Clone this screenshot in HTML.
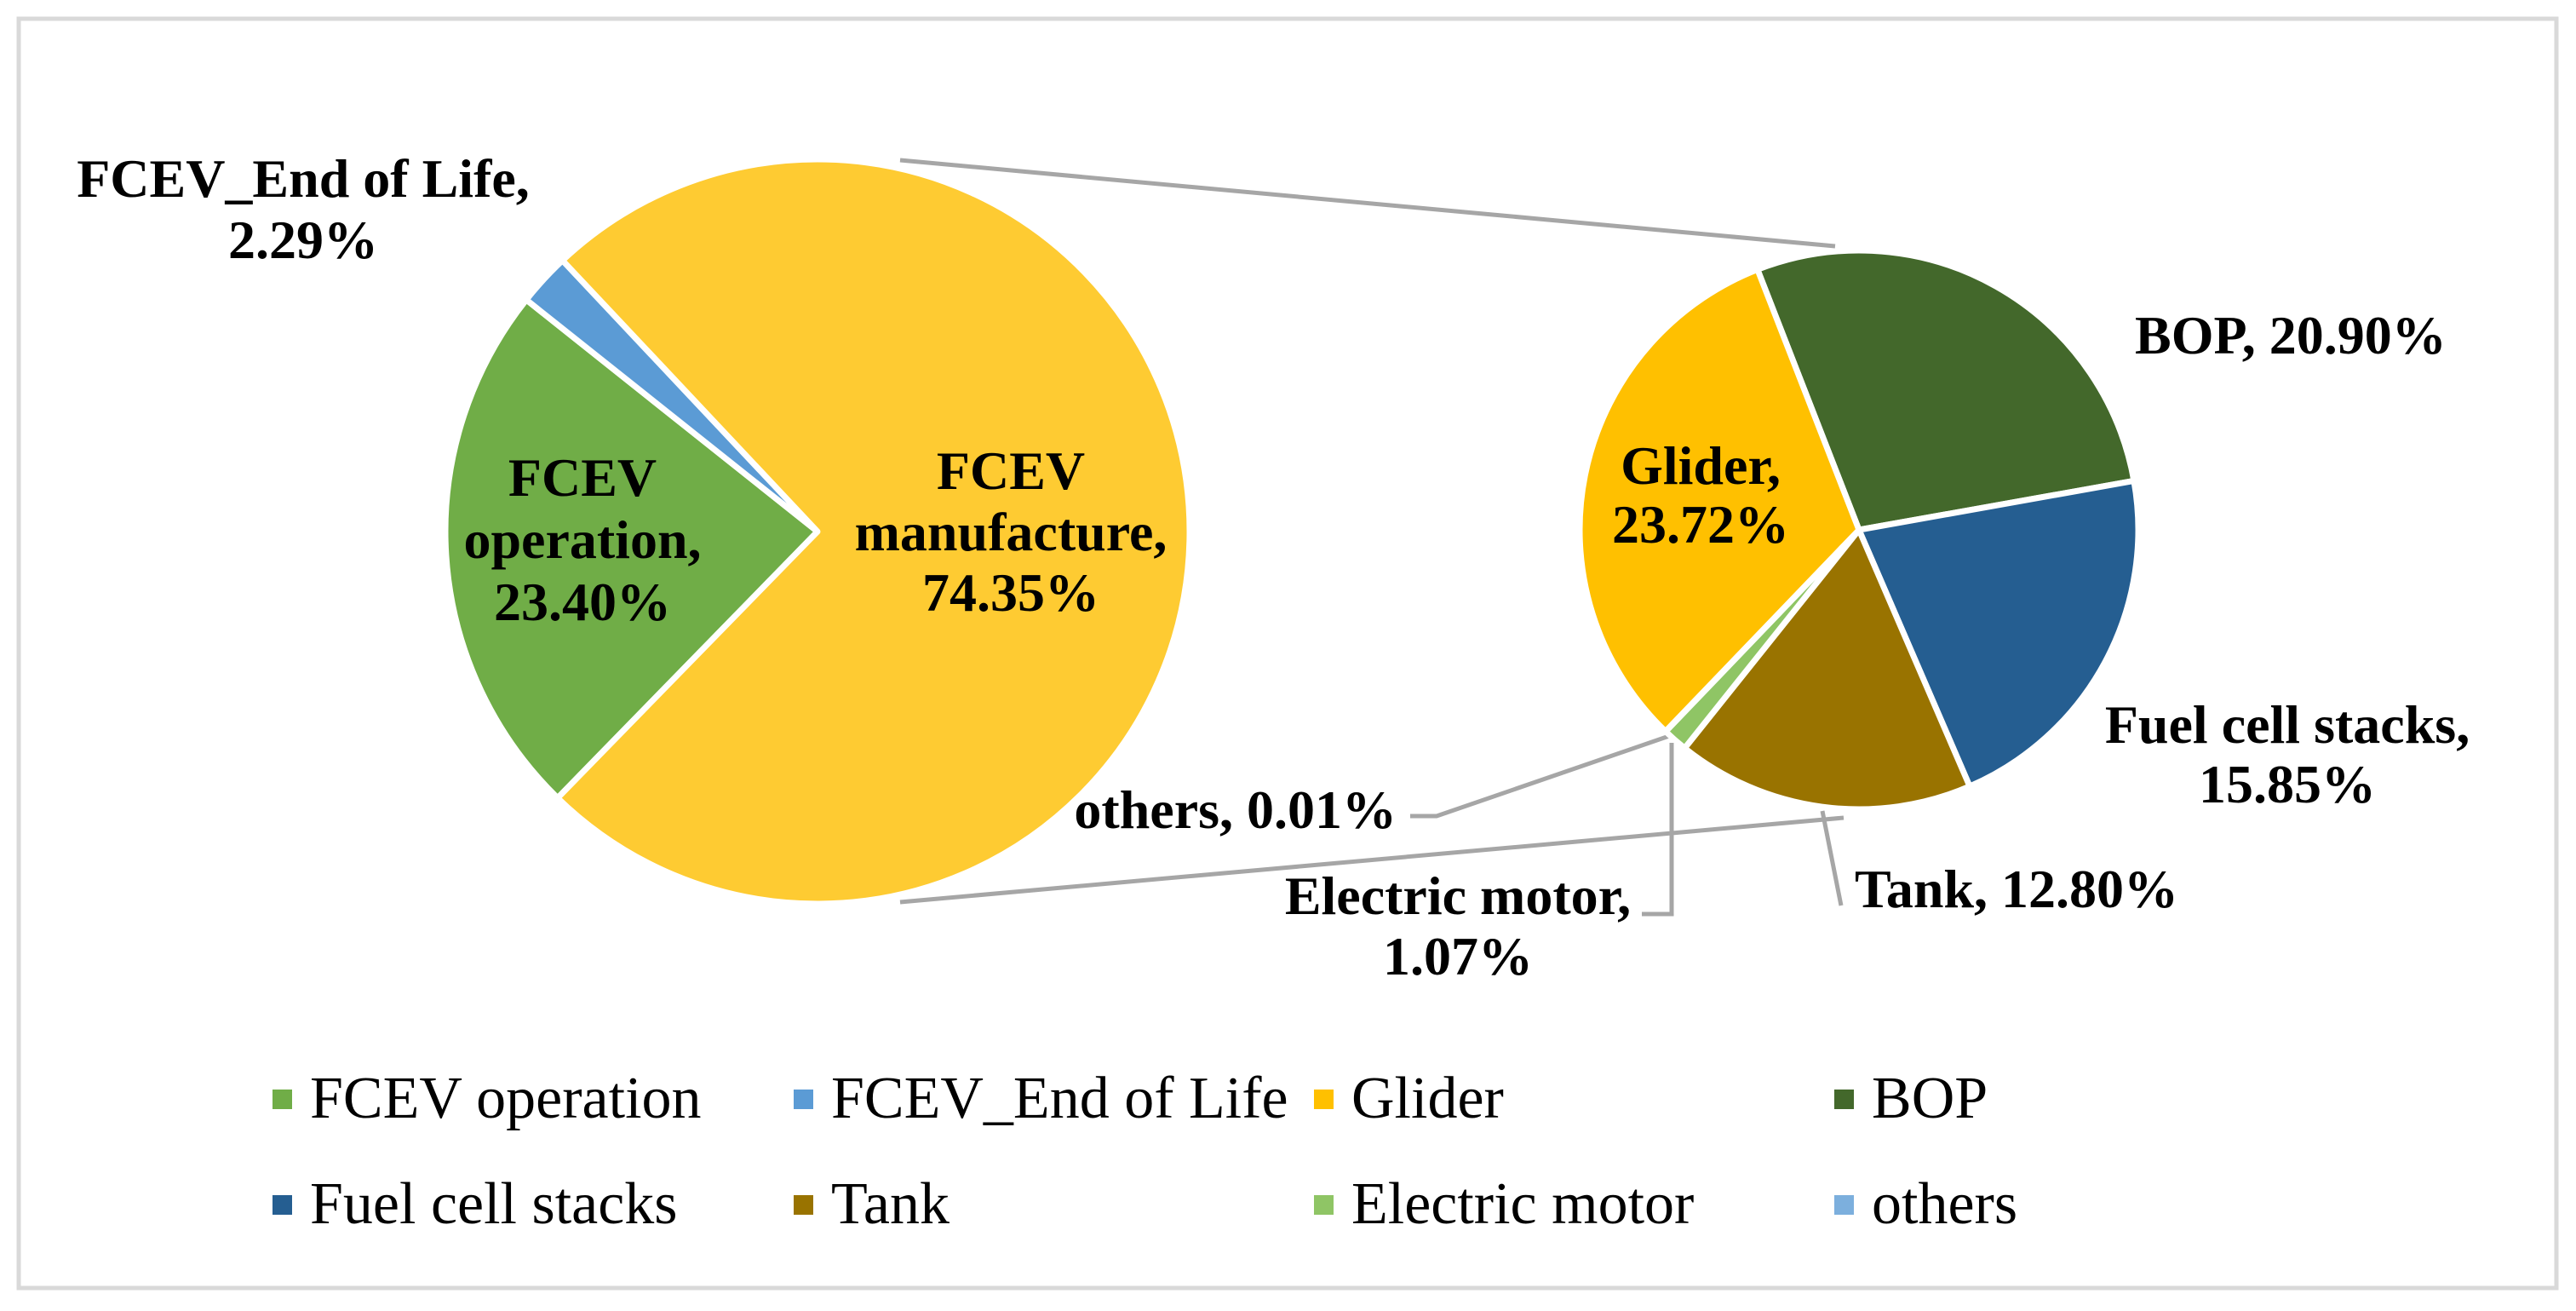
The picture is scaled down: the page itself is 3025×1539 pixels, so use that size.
<!DOCTYPE html>
<html><head><meta charset="utf-8"><style>
html,body{margin:0;padding:0;background:#fff;}
svg{display:block;}
text{font-family:"Liberation Serif",serif;}
.lb{font-weight:bold;font-size:64px;fill:#000;}
.lg{font-size:70px;fill:#000;}
</style></head><body>
<svg id="chart" width="3025" height="1539" viewBox="0 0 3025 1539" xmlns="http://www.w3.org/2000/svg">
<rect x="22" y="22" width="2980" height="1490" fill="#fff" stroke="#D9D9D9" stroke-width="5"/>
<g id="connectors" stroke="#A6A6A6" stroke-width="5" fill="none">
<line x1="1057" y1="188" x2="2155" y2="289"/>
<line x1="1057" y1="1059" x2="2165" y2="960"/>
<polyline points="1963,863 1687,958 1656,958"/>
<polyline points="1963,872 1963,1073 1928,1073"/>
<polyline points="2140,952 2162,1063"/>
</g>
<g id="main-pie"></g>
<g id="sub-pie"></g>
<g>
<text class="lb" text-anchor="middle"><tspan x="356" y="231">FCEV_End of Life,</tspan><tspan x="356" y="303">2.29%</tspan></text>
<text class="lb" text-anchor="middle"><tspan x="684" y="582">FCEV</tspan><tspan x="684" y="655">operation,</tspan><tspan x="684" y="728">23.40%</tspan></text>
<text class="lb" text-anchor="middle"><tspan x="1187" y="574">FCEV</tspan><tspan x="1187" y="646">manufacture,</tspan><tspan x="1187" y="717">74.35%</tspan></text>
<text class="lb" text-anchor="end" x="1640" y="972">others, 0.01%</text>
<text class="lb" text-anchor="middle"><tspan x="1997" y="568">Glider,</tspan><tspan x="1997" y="637">23.72%</tspan></text>
<text class="lb" x="2507" y="415">BOP, 20.90%</text>
<text class="lb" text-anchor="middle"><tspan x="2686" y="872">Fuel cell stacks,</tspan><tspan x="2686" y="942">15.85%</tspan></text>
<text class="lb" x="2178" y="1065">Tank, 12.80%</text>
<text class="lb" text-anchor="middle"><tspan x="1712" y="1073">Electric motor,</tspan><tspan x="1712" y="1144">1.07%</tspan></text>
</g>
<g id="legend"></g>
</svg>
<script>
const mainCategories = ["FCEV operation", "FCEV_End of Life", "FCEV manufacture"];
const mainValues = [23.40, 2.29, 74.35];
const mainColors = ["#70AD47", "#5B9BD5", "#FECB32"];
const subCategories = ["BOP", "Fuel cell stacks", "Tank", "Electric motor", "others", "Glider"];
const subValues = [20.90, 15.85, 12.80, 1.07, 0.01, 23.72];
const subColors = ["#43682B", "#255E91", "#997300", "#8FC565", "#7CAFDD", "#FFC000"];
const legendLabels = ["FCEV operation", "FCEV_End of Life", "Glider", "BOP", "Fuel cell stacks", "Tank", "Electric motor", "others"];
const legendColors = ["#70AD47", "#5B9BD5", "#FFC000", "#43682B", "#255E91", "#997300", "#8FC565", "#7CAFDD"];

const NS = "http://www.w3.org/2000/svg";
function arcPath(cx, cy, r, a0, a1) {
  const t0 = a0 * Math.PI / 180, t1 = a1 * Math.PI / 180;
  const x0 = cx + r * Math.cos(t0), y0 = cy + r * Math.sin(t0);
  const x1 = cx + r * Math.cos(t1), y1 = cy + r * Math.sin(t1);
  const large = (a1 - a0) > 180 ? 1 : 0;
  return `M${cx},${cy} L${x0},${y0} A${r},${r} 0 ${large} 1 ${x1},${y1} Z`;
}
function drawPie(gId, cats, vals, cols, cx, cy, r, start, prefix) {
  const g = document.getElementById(gId);
  const total = vals.reduce((a, b) => a + b, 0);
  let a = start;
  vals.forEach((v, i) => {
    const span = v / total * 360;
    const p = document.createElementNS(NS, "path");
    p.setAttribute("d", arcPath(cx, cy, r, a, a + span));
    p.setAttribute("fill", cols[i]);
    p.setAttribute("stroke", "#fff");
    p.setAttribute("stroke-width", "7");
    p.setAttribute("stroke-linejoin", "round");
    
    
    g.appendChild(p);
    a += span;
  });
}
drawPie("main-pie", mainCategories, mainValues, mainColors, 960, 624, 437, 134.3, "main");
drawPie("sub-pie", subCategories, subValues, subColors, 2183, 622, 328, 248.7, "sub");

const lg = document.getElementById("legend");
const colX = [320, 932, 1543, 2154];
const rowY = [1312, 1436];
legendLabels.forEach((lab, i) => {
  const x = colX[i % 4], y = rowY[Math.floor(i / 4)];
  const r = document.createElementNS(NS, "rect");
  r.setAttribute("x", x); r.setAttribute("y", y - 33);
  r.setAttribute("width", 23); r.setAttribute("height", 23);
  r.setAttribute("fill", legendColors[i]);
  
  
  lg.appendChild(r);
  const t = document.createElementNS(NS, "text");
  t.setAttribute("x", x + 44); t.setAttribute("y", y);
  t.setAttribute("class", "lg");
  t.textContent = lab;
  
  
  lg.appendChild(t);
});
</script>
</body></html>
